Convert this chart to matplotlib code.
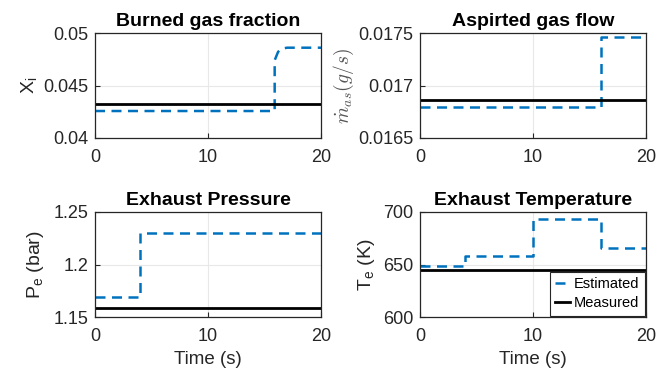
import matplotlib
matplotlib.use("Agg")
import matplotlib.pyplot as plt

plt.rcParams["font.family"] = ["Liberation Sans", "DejaVu Sans"]
plt.rcParams["mathtext.fontset"] = "custom"
plt.rcParams["mathtext.rm"] = "Liberation Sans"
plt.rcParams["mathtext.it"] = "Liberation Sans:italic"

# --- data ---
t_xb = [0, 15.9, 15.9, 16.2, 16.5, 17.0, 20]
xb_est = [0.04257, 0.04257, 0.0474, 0.0482, 0.0485, 0.0486, 0.0486]
xb_meas = 0.0432

t_mas = [0, 16, 20]
mas_est = [0.016797, 0.017462, 0.017462]
mas_meas = 0.016861

t_pe = [0, 4, 20]
pe_est = [1.1692, 1.2299, 1.2299]
pe_meas = 1.159

t_te = [0, 4, 10, 16, 20]
te_est = [649, 658.5, 693, 666, 666]
te_meas = 645

BLUE = "#0072BD"
TXT = "#262626"

fig = plt.figure(figsize=(6.69, 3.73), dpi=100)

W, H = 669, 373
def box(x0, y0, x1, y1):
    return [x0 / W, (H - y1) / H, (x1 - x0) / W, (y1 - y0) / H]

axs = [
    fig.add_axes(box(95, 33, 321, 138)),
    fig.add_axes(box(420, 33, 646, 138)),
    fig.add_axes(box(95, 212, 321, 317)),
    fig.add_axes(box(420, 212, 646, 317)),
]

def style(ax, title, ylim, yticks, yticklabels):
    ax.set_xlim(0, 20)
    ax.set_xticks([0, 10, 20])
    ax.set_ylim(*ylim)
    ax.set_yticks(yticks)
    ax.set_yticklabels(yticklabels)
    ax.grid(True, color="#e8e8e8", linewidth=0.8)
    ax.set_axisbelow(True)
    ax.tick_params(direction="in", length=3.5, labelsize=13, colors=TXT,
                   width=0.8, pad=5)
    ax.tick_params(axis="x", pad=8)
    for s in ax.spines.values():
        s.set_color(TXT)
        s.set_linewidth(0.9)
    ax.set_title(title, fontsize=14, fontweight="bold", color="black", pad=5)

dash = (0, (4, 2.6))

ax = axs[0]
ax.plot(t_xb, xb_est, color=BLUE, lw=1.8, linestyle=dash)
ax.axhline(xb_meas, color="black", lw=2)
style(ax, "Burned gas fraction", (0.04, 0.05), [0.04, 0.045, 0.05],
      ["0.04", "0.045", "0.05"])
ax.set_ylabel(r"X$_\mathrm{i}$", fontsize=14, color=TXT, labelpad=3)

ax = axs[1]
ax.step(t_mas, mas_est, where="post", color=BLUE, lw=1.8, linestyle=dash)
ax.axhline(mas_meas, color="black", lw=2)
style(ax, "Aspirted gas flow", (0.0165, 0.0175), [0.0165, 0.017, 0.0175],
      ["0.0165", "0.017", "0.0175"])
ax.set_ylabel(r"$\dot{m}_{as}(g/s)$", fontsize=14, color="#555555",
              math_fontfamily="cm", labelpad=1)

ax = axs[2]
ax.step(t_pe, pe_est, where="post", color=BLUE, lw=1.8, linestyle=dash)
ax.axhline(pe_meas, color="black", lw=2)
style(ax, "Exhaust Pressure", (1.15, 1.25), [1.15, 1.2, 1.25],
      ["1.15", "1.2", "1.25"])
ax.set_ylabel(r"P$_\mathrm{e}$ (bar)", fontsize=14, color=TXT, labelpad=5)
ax.set_xlabel("Time (s)", fontsize=13.5, color=TXT, labelpad=4)

ax = axs[3]
ax.step(t_te, te_est, where="post", color=BLUE, lw=1.8, linestyle=dash,
        label="Estimated")
ax.axhline(te_meas, color="black", lw=2, label="Measured")
style(ax, "Exhaust Temperature", (600, 700), [600, 650, 700],
      ["600", "650", "700"])
ax.set_ylabel(r"T$_\mathrm{e}$ (K)", fontsize=14, color=TXT, labelpad=4)
ax.set_xlabel("Time (s)", fontsize=13.5, color=TXT, labelpad=4)
leg = ax.legend(loc="lower right", fontsize=10.5, fancybox=False,
                framealpha=1, edgecolor=TXT, handlelength=1.0,
                handletextpad=0.3, borderpad=0.35, labelspacing=0.35,
                borderaxespad=0.1)
leg.get_frame().set_linewidth(0.8)

fig.savefig("out.png", dpi=100)
